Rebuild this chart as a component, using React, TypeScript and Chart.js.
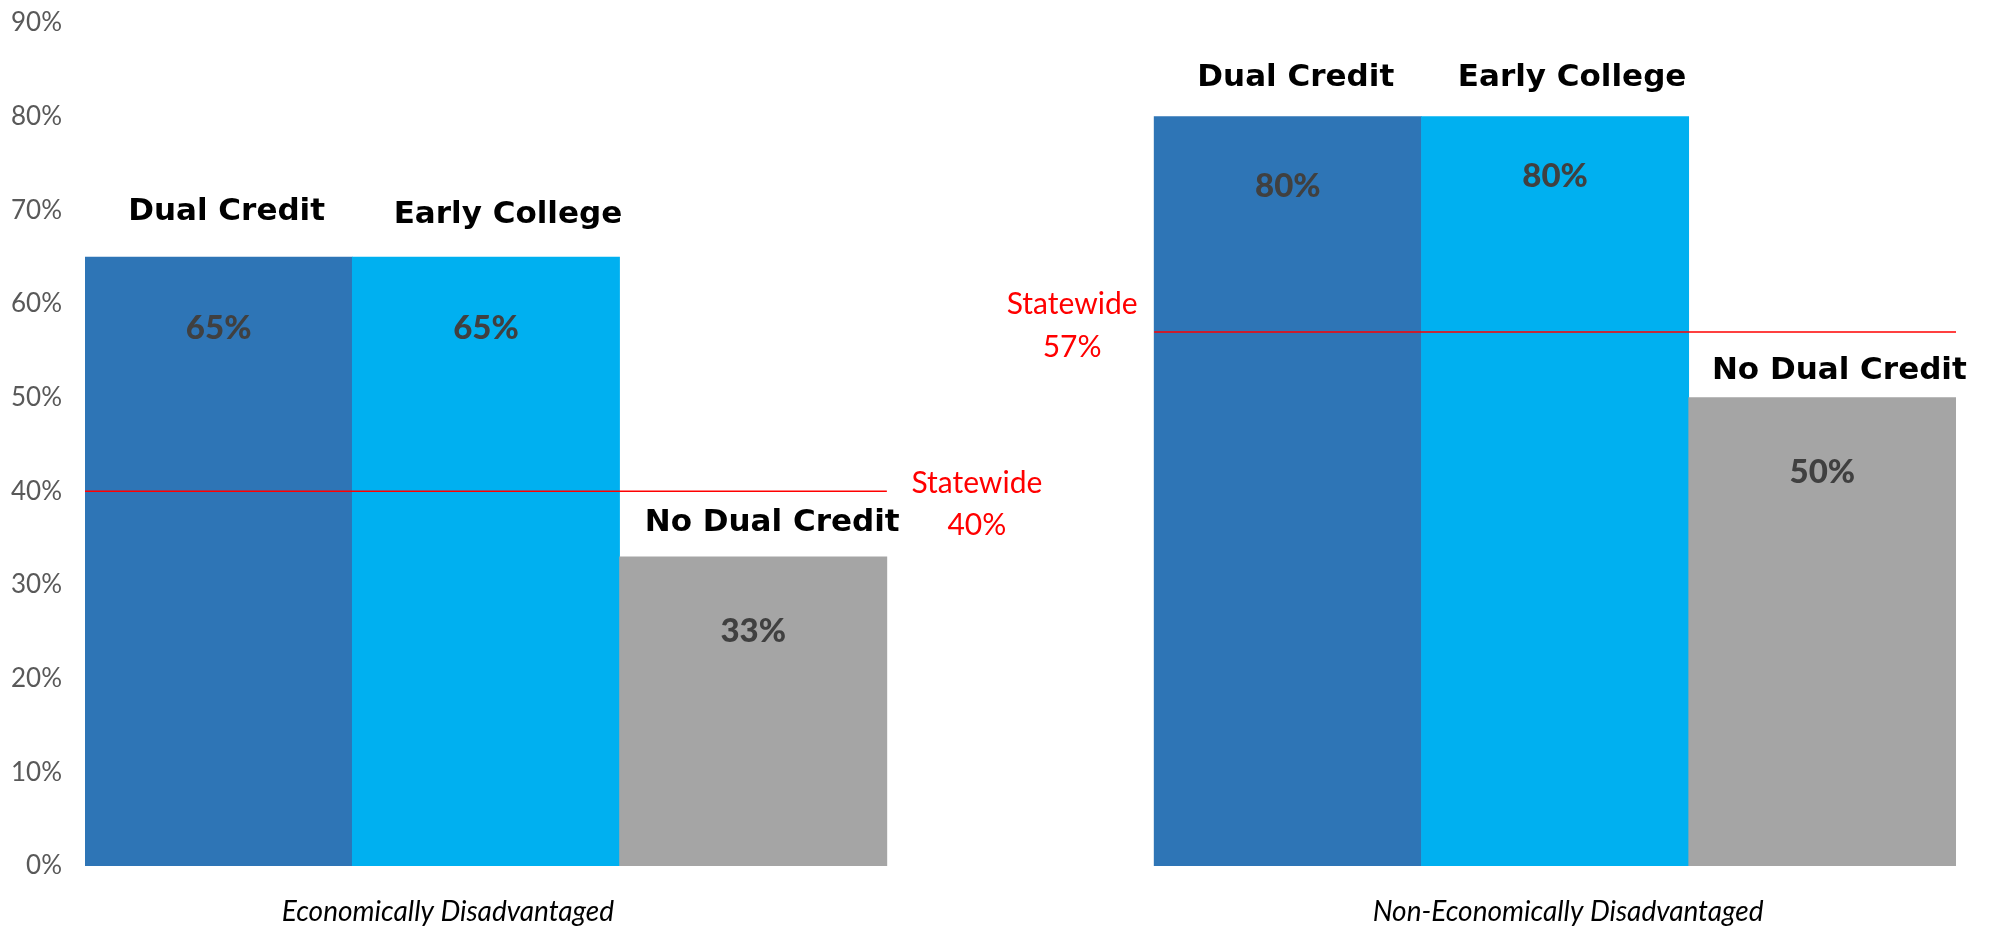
import React, { useEffect, useRef } from "react";
import { Chart, registerables } from "chart.js";

Chart.register(...registerables);

const groups = ["Economically Disadvantaged", "Non-Economically Disadvantaged"];
const programs = ["Dual Credit", "Early College", "No Dual Credit"];
const econValues = [65, 65, 33];
const nonEconValues = [80, 80, 50];
const statewide = [40, 57];
const programColors = ["#2E75B6", "#00B0F0", "#A5A5A5"];
const yMax = 90;
const yStep = 10;

const slotLabels = [...programs, "", ...programs];
const slotValues: (number | null)[] = [...econValues, null, ...nonEconValues];
const slotColors = [...programColors, "rgba(0,0,0,0)", ...programColors];

// text placement tweaks (style, not data)
const nameLift = [37, 34, 26, 0, 31, 31, 19];
const nameShift = [8, 22, 19, 0, 8, 17, 17];
const valueDrop = [71, 71, 74, 0, 70, 60, 75];

const annotationPlugin = {
  id: "annotations",
  afterDatasetsDraw(chart: any) {
    const ctx = chart.ctx;
    const meta = chart.getDatasetMeta(0);
    const yScale = chart.scales.y;
    const xScale = chart.scales.x;
    ctx.save();
    meta.data.forEach((bar: any, i: number) => {
      const v = slotValues[i];
      if (v === null || v === undefined) return;
      ctx.textAlign = "center";
      ctx.textBaseline = "middle";
      ctx.fillStyle = "#404040";
      ctx.font = "900 33px Lato";
      ctx.fillText(`${v}%`, bar.x, bar.y + valueDrop[i]);
      ctx.textBaseline = "alphabetic";
      ctx.fillStyle = "#000000";
      ctx.font = "bold 31px 'DejaVu Sans'";
      ctx.fillText(slotLabels[i], bar.x + nameShift[i], bar.y - nameLift[i]);
    });
    statewide.forEach((s, g) => {
      const first = meta.data[g * 4];
      const last = meta.data[g * 4 + 2];
      const left = first.x - first.width / 2;
      const right = last.x + last.width / 2;
      const y = yScale.getPixelForValue(s);
      ctx.strokeStyle = "#FF0000";
      ctx.lineWidth = 1.5;
      ctx.beginPath();
      ctx.moveTo(left, y);
      ctx.lineTo(right, y);
      ctx.stroke();
      ctx.fillStyle = "#FF0000";
      ctx.font = "30px Lato";
      ctx.textAlign = "center";
      ctx.textBaseline = "alphabetic";
      if (g === 0) {
        ctx.fillText("Statewide", right + 90, y + 2);
        ctx.fillText(`${s}%`, right + 90, y + 44);
      } else {
        ctx.fillText("Statewide", left - 82, y - 18);
        ctx.fillText(`${s}%`, left - 82, y + 25);
      }
    });
    ctx.fillStyle = "#000000";
    ctx.font = "italic 28px Lato";
    ctx.textAlign = "center";
    ctx.textBaseline = "middle";
    ctx.fillText(groups[0], xScale.getPixelForValue(1) - 38, 912);
    ctx.fillText(groups[1], xScale.getPixelForValue(5) + 13, 912);
    ctx.restore();
  },
};

export default function App() {
  const ref = useRef<HTMLCanvasElement>(null);
  useEffect(() => {
    if (!ref.current) return;
    const chart = new Chart(ref.current, {
      type: "bar",
      data: {
        labels: slotLabels.map((l, i) => `${i}`),
        datasets: [
          {
            data: slotValues as any,
            backgroundColor: slotColors,
            borderWidth: 0,
            barPercentage: 1,
            categoryPercentage: 1,
          },
        ],
      },
      options: {
        animation: false,
        responsive: false,
        maintainAspectRatio: false,
        layout: { padding: { left: 0, right: 36, top: 23, bottom: 62 } },
        plugins: { legend: { display: false }, tooltip: { enabled: false } },
        scales: {
          x: { display: false },
          y: {
            min: 0,
            max: yMax,
            afterFit: (scale: any) => {
              scale.width = 85;
              scale.paddingTop = 0;
              scale.paddingBottom = 0;
            },
            border: { display: false },
            grid: { display: false, drawTicks: false },
            ticks: {
              stepSize: yStep,
              padding: 23,
              color: "#595959",
              font: { family: "Lato", size: 26 },
              callback: (v: any) => `${v}%`,
            },
          },
        },
      },
      plugins: [annotationPlugin],
    });
    return () => chart.destroy();
  }, []);
  return (
    <div style={{ position: "absolute", left: 0, top: 0, width: 1992, height: 928, background: "#fff" }}>
      <canvas ref={ref} width={1992} height={928} style={{ width: 1992, height: 928 }} />
    </div>
  );
}
